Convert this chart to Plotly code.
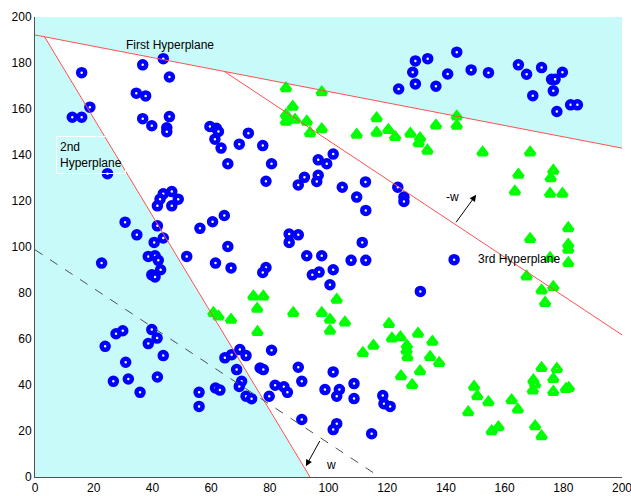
import plotly.graph_objects as go

# ---- data ----
blue_x = [15.9, 18.7, 12.7, 15.9, 24.7, 36.7, 43.7, 45.8, 34.5, 37.7, 36.7, 39.8, 45.8, 44.9, 44.9,
          59.6, 61.8, 62.5, 61.3, 63.4, 129.6, 128.7, 129.6, 123.9, 72.7, 69.6, 77.6, 65.7, 80.6,
          96.5, 99.4, 101.6, 91.8, 96.5, 78.7, 112.6, 133.8, 136.6, 140.6, 143.7, 148.6, 154.5,
          164.7, 167.5, 172.6, 176.0, 177.2, 179.7, 169.6, 176.6, 177.8, 182.5, 184.8,
          43.7, 46.6, 48.8, 42.6, 41.7, 46.6, 30.7, 60.5, 56.2, 34.7, 41.7, 43.7, 40.6, 38.6, 40.9,
          42.0, 51.7, 22.7, 61.5, 42.8, 39.8, 40.9, 27.6, 29.9, 39.8, 41.6,
          89.7, 96.0, 104.7, 109.6, 112.7, 123.6, 125.7, 125.7, 64.5, 65.7, 66.8, 86.6, 89.7, 86.6,
          111.5, 92.6, 97.7, 107.7, 112.7, 78.7, 77.6, 94.5, 96.8, 101.6, 100.5, 131.3, 142.8,
          23.9, 38.6, 43.7, 30.9, 26.7, 31.8, 41.7, 35.8, 55.9, 55.9, 61.5, 63.0,
          64.7, 67.0, 69.8, 71.9, 80.6, 68.7, 76.7, 77.8, 70.4, 69.6, 71.9, 73.8, 79.8, 81.8, 84.8,
          86.0, 89.7, 90.9, 101.6, 98.8, 103.7, 102.8, 108.7, 108.7, 90.9, 102.8, 101.6, 114.7,
          118.5, 118.9, 121.0]
blue_y = [175.8, 160.8, 156.4, 156.4, 131.9, 179.2, 181.9, 173.9, 166.9, 165.7, 155.8, 152.7, 156.7, 151.8, 150.1,
          152.4, 151.6, 150.2, 146.9, 143.0, 180.9, 176.0, 170.9, 168.7, 149.5, 144.7, 144.1, 136.2, 136.2,
          137.9, 136.2, 140.4, 130.3, 131.2, 128.6, 128.3, 181.9, 169.9, 175.2, 184.7, 177.0, 175.8,
          179.2, 175.1, 178.0, 172.9, 172.9, 176.0, 165.8, 167.9, 158.9, 161.8, 161.8,
          123.1, 124.1, 120.8, 120.8, 117.9, 117.9, 110.8, 111.0, 108.1, 105.3, 109.2, 103.9, 102.0, 95.9, 96.2,
          94.2, 95.9, 93.0, 93.0, 90.1, 87.9, 87.0, 62.3, 63.6, 64.1, 60.4,
          127.0, 128.5, 126.0, 121.7, 115.9, 126.0, 121.7, 119.8, 113.7, 100.2, 90.9, 105.6, 105.3, 102.0,
          102.0, 96.2, 96.2, 94.2, 94.2, 91.1, 88.9, 87.9, 89.1, 90.1, 83.6, 80.7, 94.5,
          56.8, 58.0, 52.8, 49.9, 41.6, 42.6, 43.5, 36.8, 36.8, 30.7, 38.7, 37.8,
          51.8, 53.2, 55.4, 52.8, 55.1, 46.7, 47.4, 46.7, 41.6, 39.4, 35.1, 34.0, 35.1, 39.9, 39.2,
          36.8, 47.7, 41.6, 45.7, 38.0, 38.0, 35.1, 40.6, 34.1, 25.0, 23.2, 20.6, 18.8,
          35.4, 31.9, 30.7]

green_x = [85.5, 97.7, 87.8, 85.5, 85.5, 88.6, 92.6, 93.7, 97.7, 109.6, 116.4, 116.4, 120.4, 122.7,
           127.9, 130.7, 131.2, 133.7, 136.6, 143.7, 143.7, 152.5, 168.7, 164.7, 176.6, 175.7, 163.5,
           175.5, 179.7, 181.7, 168.7, 181.7, 181.7, 175.5, 181.7, 167.5, 172.6, 176.6, 173.8,
           60.8, 62.5, 66.8, 74.4, 77.8, 75.7, 88.0, 75.8, 102.8, 97.7, 100.5, 100.5, 105.6, 120.6,
           121.6, 124.5, 130.5, 135.4, 111.7, 115.3, 126.7, 126.6, 126.9, 124.7, 128.5, 131.2, 134.6,
           137.7, 149.6, 150.7, 154.5, 147.6, 162.4, 164.5, 157.9, 155.6, 172.6, 177.8, 169.8, 170.4,
           169.6, 176.6, 176.6, 180.9, 181.9, 170.4, 172.6]
green_y = [169.0, 167.3, 161.0, 157.4, 154.5, 155.3, 154.5, 149.5, 151.2, 148.8, 156.0, 149.7, 150.9, 147.8,
           149.2, 145.1, 147.3, 141.9, 152.8, 156.7, 152.7, 141.1, 141.1, 131.4, 133.2, 129.9, 124.1,
           123.1, 123.1, 108.2, 103.5, 101.0, 98.8, 95.2, 93.0, 87.2, 81.1, 82.6, 75.7,
           71.3, 69.8, 68.4, 78.5, 78.5, 73.1, 71.3, 63.0, 77.1, 71.3, 68.4, 63.6, 67.2, 66.5,
           60.2, 60.8, 62.3, 58.8, 53.9, 57.1, 57.1, 54.9, 52.1, 43.8, 40.0, 46.0, 52.2,
           49.6, 39.2, 35.1, 32.5, 28.1, 33.4, 29.3, 21.6, 19.9, 47.4, 47.0, 42.0, 40.2,
           37.6, 42.6, 37.0, 38.3, 38.7, 22.1, 17.7]

# hyperplanes (end points in data units)
h1_x = [0, 200]
h1_y = [192.2, 143.0]
h2_x = [3.25, 93.7]
h2_y = [191.4, 0]
h3_x = [64.4, 200]
h3_y = [176.4, 61.8]
margin_x = [0, 117.5]
margin_y = [98.8, 0]
# shaded region (above 1st and left of 2nd hyperplane)
region_x = [0, 0, 200, 200, 3.25, 93.7]
region_y = [0, 200, 200, 143.0, 191.4, 0]

tick_vals = [0, 20, 40, 60, 80, 100, 120, 140, 160, 180, 200]

FONT = "Liberation Sans, Arial, Helvetica, sans-serif"

fig = go.Figure()
fig.add_trace(go.Scatter(x=region_x, y=region_y, fill="toself", fillcolor="#C9FAFA",
                         line=dict(width=0), mode="lines", hoverinfo="skip"))
fig.add_trace(go.Scatter(x=blue_x, y=blue_y, mode="markers",
                         marker=dict(symbol="circle", size=7, color="white",
                                     line=dict(color="#0000FF", width=4.5))))
fig.add_trace(go.Scatter(x=green_x, y=green_y, mode="markers",
                         marker=dict(symbol="triangle-up", size=8, color="white",
                                     line=dict(color="#00FF00", width=4))))
for lx, ly in [(h1_x, h1_y), (h2_x, h2_y), (h3_x, h3_y)]:
    fig.add_trace(go.Scatter(x=lx, y=ly, mode="lines", line=dict(color="#FF5050", width=1)))
fig.add_trace(go.Scatter(x=margin_x, y=margin_y, mode="lines",
                         line=dict(color="#505050", width=1, dash="dash")))

annos = [
    dict(x=46.0, y=187.8, text="First Hyperplane", showarrow=False, xanchor="center", yanchor="middle"),
    dict(x=19.1, y=140.1, text="2nd<br>Hyperplane", showarrow=False, align="left",
         xanchor="center", yanchor="middle", bordercolor="white", borderwidth=1, borderpad=3),
    dict(x=150.3, y=94.9, text="3rd Hyperplane", showarrow=False, xanchor="left", yanchor="middle"),
    dict(x=100.8, y=5.4, text="w", showarrow=False),
    dict(x=142.3, y=121.7, text="-w", showarrow=False),
    dict(x=92.3, y=4.7, ax=97.3, ay=16.3, axref="x", ayref="y", text="", showarrow=True,
         arrowhead=2, arrowsize=1.3, arrowwidth=1, arrowcolor="black"),
    dict(x=150.3, y=122.7, ax=143.1, ay=110.1, axref="x", ayref="y", text="", showarrow=True,
         arrowhead=2, arrowsize=1.3, arrowwidth=1, arrowcolor="black"),
]

fig.update_layout(
    width=631, height=496, template="none", showlegend=False,
    margin=dict(l=35, r=9, t=17, b=19),
    paper_bgcolor="white", plot_bgcolor="white",
    font=dict(family=FONT, size=12, color="black"),
    annotations=annos,
)
fig.update_xaxes(range=[0, 200], tickvals=tick_vals, showgrid=False, zeroline=False,
                 showline=True, linecolor="#505050", linewidth=1, ticks="", automargin=False,
                 ticklabeloverflow="allow", tickfont=dict(family=FONT, size=12))
fig.update_yaxes(range=[0, 200], tickvals=tick_vals, showgrid=False, zeroline=False,
                 showline=True, linecolor="#505050", linewidth=1, ticks="", automargin=False,
                 ticklabeloverflow="allow", tickfont=dict(family=FONT, size=12))

fig.write_html("out.html", config={"displayModeBar": False},
               post_script="document.body.style.margin='0px';document.body.style.overflow='hidden';")
